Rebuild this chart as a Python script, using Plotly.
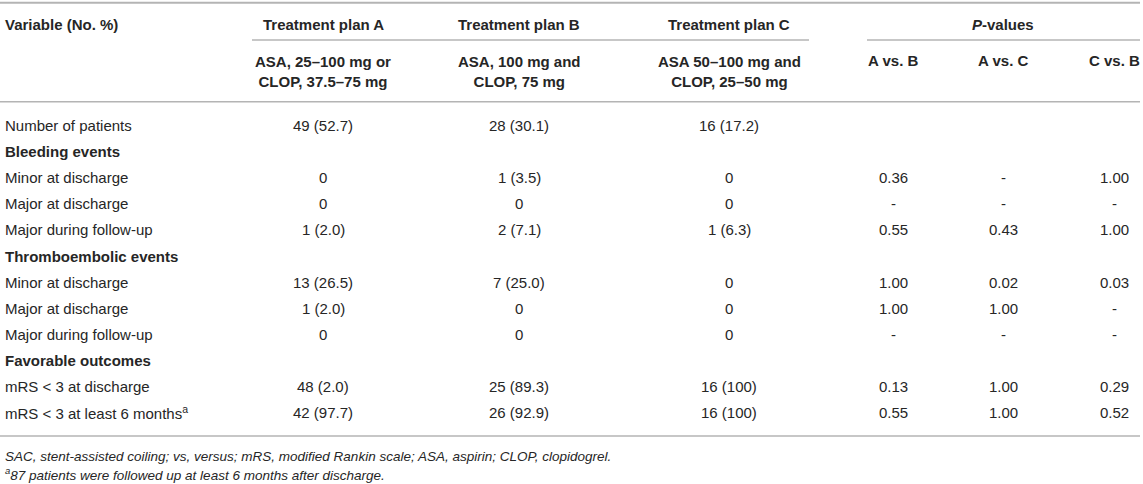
import plotly.graph_objects as go

# table content
variables = ["Number of patients", "<b>Bleeding events</b>", "Minor at discharge",
             "Major at discharge", "Major during follow-up", "<b>Thromboembolic events</b>",
             "Minor at discharge", "Major at discharge", "Major during follow-up",
             "<b>Favorable outcomes</b>", "mRS < 3 at discharge",
             "mRS < 3 at least 6 months<sup>a</sup>"]
plan_a = ["49 (52.7)", "", "0", "0", "1 (2.0)", "", "13 (26.5)", "1 (2.0)", "0", "", "48 (2.0)", "42 (97.7)"]
plan_b = ["28 (30.1)", "", "1 (3.5)", "0", "2 (7.1)", "", "7 (25.0)", "0", "0", "", "25 (89.3)", "26 (92.9)"]
plan_c = ["16 (17.2)", "", "0", "0", "1 (6.3)", "", "0", "0", "0", "", "16 (100)", "16 (100)"]
p_ab = ["", "", "0.36", "-", "0.55", "", "1.00", "1.00", "-", "", "0.13", "0.55"]
p_ac = ["", "", "-", "-", "0.43", "", "0.02", "1.00", "-", "", "1.00", "1.00"]
p_cb = ["", "", "1.00", "-", "1.00", "", "0.03", "-", "-", "", "0.29", "0.52"]

plan_titles = ["Treatment plan A", "Treatment plan B", "Treatment plan C"]
plan_doses = ["ASA, 25–100 mg or<br>CLOP, 37.5–75 mg", "ASA, 100 mg and<br>CLOP, 75 mg",
              "ASA 50–100 mg and<br>CLOP, 25–50 mg"]
p_titles = ["A vs. B", "A vs. C", "C vs. B"]
footnotes = ["SAC, stent-assisted coiling; vs, versus; mRS, modified Rankin scale; ASA, aspirin; CLOP, clopidogrel.",
             "<sup>a</sup>87 patients were followed up at least 6 months after discharge."]

W, H = 1143, 484
FONT = "Liberation Sans, Arial, sans-serif"
TXT = "#262626"
LINE = "#b4b4b4"
FS = 15

col_x = [323, 519, 729, 893, 1003, 1114]
row0, pitch = 125.5, 26.1

ann = []
def add(x, y, text, anchor="center", bold=False, italic=False, size=FS):
    if bold:
        text = "<b>" + text + "</b>"
    if italic:
        text = "<i>" + text + "</i>"
    ann.append(dict(x=x, y=y, xref="x", yref="y", text=text, showarrow=False,
                    xanchor=anchor, yanchor="middle", align="center",
                    font=dict(family=FONT, size=size, color=TXT)))

# header
add(3, 24, "Variable (No. %)", anchor="left", bold=True)
for i, t in enumerate(plan_titles):
    add(col_x[i], 24, t, bold=True)
    add(col_x[i], 71.5, plan_doses[i], bold=True)
add(1003, 24, "<b><i>P</i>-values</b>")
for i, t in enumerate(p_titles):
    add(col_x[3 + i], 60, t, bold=True)

# body
columns = [plan_a, plan_b, plan_c, p_ab, p_ac, p_cb]
for r, v in enumerate(variables):
    y = row0 + r * pitch
    add(3, y, v, anchor="left")
    for c, col in enumerate(columns):
        if col[r]:
            add(col_x[c], y, col[r])

for k, f in enumerate(footnotes):
    add(3, 456 + k * 18, f, anchor="left", italic=True, size=13.5)

shapes = [
    dict(type="line", x0=0, x1=1140, y0=2.7, y1=2.7, line=dict(color=LINE, width=2)),
    dict(type="line", x0=252, x1=809, y0=40, y1=40, line=dict(color=LINE, width=1.5)),
    dict(type="line", x0=867, x1=1140, y0=40, y1=40, line=dict(color=LINE, width=1.5)),
    dict(type="line", x0=0, x1=1140, y0=101.7, y1=101.7, line=dict(color=LINE, width=1.5)),
    dict(type="line", x0=0, x1=1140, y0=436, y1=436, line=dict(color=LINE, width=1.5)),
]
for s in shapes:
    s.update(xref="x", yref="y")

fig = go.Figure()
fig.update_layout(
    width=W, height=H, margin=dict(l=0, r=0, t=0, b=0),
    paper_bgcolor="white", plot_bgcolor="white",
    xaxis=dict(range=[0, W], visible=False, fixedrange=True),
    yaxis=dict(range=[H, 0], visible=False, fixedrange=True),
    annotations=ann, shapes=shapes, showlegend=False,
)
# drop the default page margin so the table sits at the window's top-left
fig.write_html("out.html", config={"displayModeBar": False},
               post_script="document.body.style.margin='0';")
